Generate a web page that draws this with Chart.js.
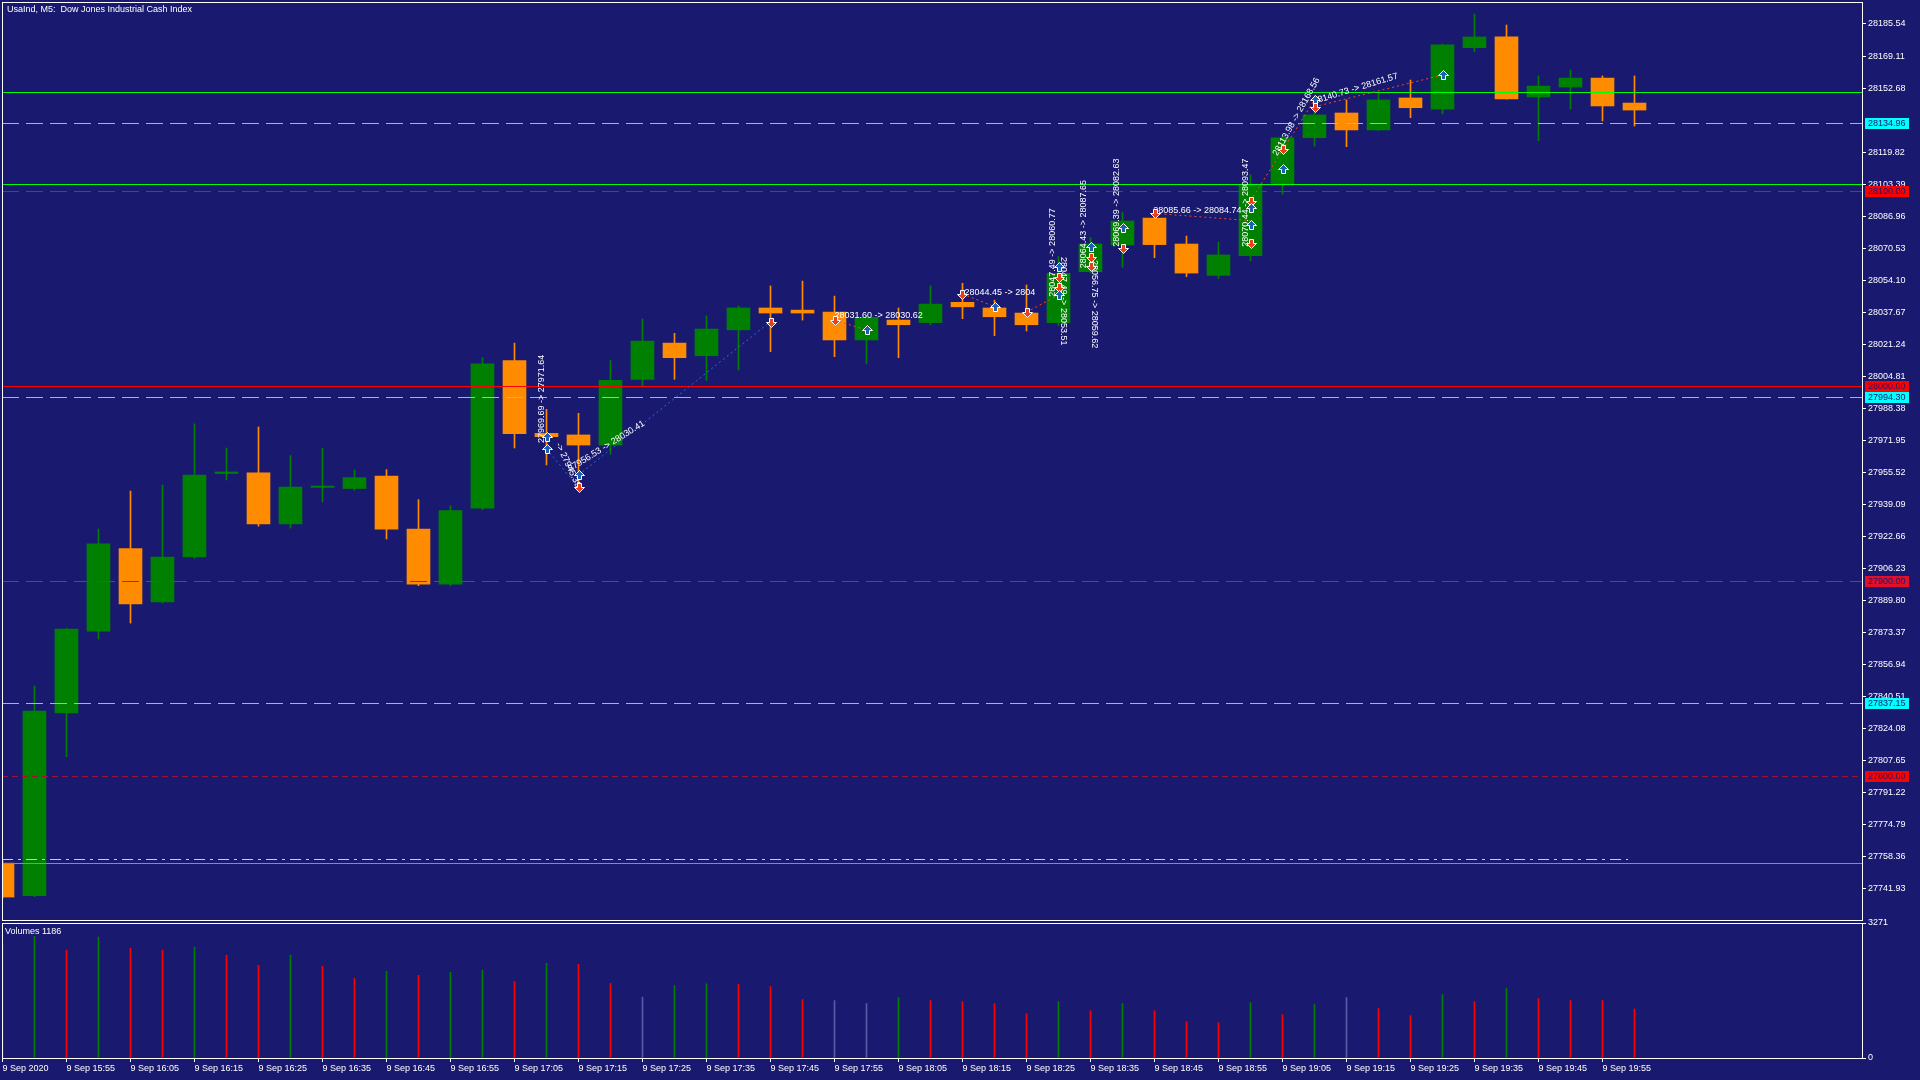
<!DOCTYPE html>
<html>
<head>
<meta charset="utf-8">
<script src="https://cdn.jsdelivr.net/npm/chart.js@4.4.0/dist/chart.umd.min.js"></script>
<style>
  html, body { margin: 0; padding: 0; background: #191970; overflow: hidden; }
  #wrap { position: relative; width: 1920px; height: 1080px; }
  canvas { position: absolute; left: 0; }
  #priceChart { top: 0; }
  #volChart { top: 900px; }
</style>
</head>
<body>
<div id="wrap">
  <canvas id="priceChart" width="1920" height="922"></canvas>
  <canvas id="volChart" width="1920" height="180"></canvas>
</div>
<script>
// M5 bars, 9 Sep 2020
const barTimes = ['15:45','15:50','15:55','16:00','16:05','16:10','16:15','16:20','16:25','16:30',
  '16:35','16:40','16:45','16:50','16:55','17:00','17:05','17:10','17:15','17:20',
  '17:25','17:30','17:35','17:40','17:45','17:50','17:55','18:00','18:05','18:10',
  '18:15','18:20','18:25','18:30','18:35','18:40','18:45','18:50','18:55','19:00',
  '19:05','19:10','19:15','19:20','19:25','19:30','19:35','19:40','19:45','19:50',
  '19:55','20:00'];

const open  = [27755.2, 27738.5, 27832.2, 27874.2, 27916.5, 27889.1, 27912.2, 27955.0, 27955.4, 27929.1,
  27947.9, 27947.3, 27953.7, 27926.5, 27898.3, 27937.2, 28012.9, 27975.6, 27974.8, 27969.6,
  28003.3, 28021.9, 28015.4, 28028.7, 28039.9, 28038.8, 28037.8, 28023.5, 28033.7, 28032.4,
  28042.8, 28039.9, 28037.3, 28032.4, 28058.5, 28072.2, 28086.0, 28072.7, 28056.6, 28066.7,
  28103.0, 28127.2, 28139.9, 28131.2, 28147.6, 28141.9, 28173.4, 28178.9, 28148.1, 28153.2,
  28157.8, 28145.0];
const high  = [27756.5, 27846.0, 27875.6, 27926.5, 27946.0, 27949.1, 27980.5, 27968.1, 27978.9, 27964.2,
  27968.0, 27956.8, 27957.0, 27941.6, 27938.5, 28014.4, 28021.9, 27987.9, 27985.9, 28012.9,
  28034.2, 28026.9, 28035.8, 28040.9, 28051.2, 28053.7, 28046.0, 28036.0, 28039.9, 28051.2,
  28052.6, 28043.9, 28051.7, 28066.2, 28076.0, 28088.8, 28090.1, 28076.8, 28073.6, 28108.2,
  28128.0, 28149.1, 28146.6, 28149.7, 28156.8, 28175.2, 28190.6, 28185.0, 28158.9, 28161.9,
  28158.9, 28158.9];
const low   = [27737.2, 27738.0, 27809.8, 27870.1, 27878.3, 27888.6, 27911.5, 27951.7, 27928.0, 27927.0,
  27940.5, 27946.5, 27921.4, 27897.5, 27897.5, 27936.5, 27968.1, 27959.4, 27950.0, 27964.9,
  27999.5, 28003.3, 28002.8, 28008.1, 28017.5, 28033.7, 28014.9, 28011.5, 28014.4, 28031.2,
  28034.4, 28025.7, 28028.1, 28031.0, 28057.9, 28060.8, 28065.7, 28056.0, 28055.0, 28064.1,
  28098.3, 28122.9, 28122.6, 28131.0, 28137.5, 28139.5, 28171.3, 28147.0, 28125.7, 28141.9,
  28135.8, 28133.2];
const close = [27737.8, 27833.2, 27875.2, 27919.0, 27888.1, 27912.2, 27954.2, 27955.8, 27929.1, 27948.1,
  27948.6, 27952.9, 27926.5, 27898.3, 27936.0, 28011.3, 27975.5, 27973.9, 27969.6, 28002.8,
  28022.9, 28014.4, 28029.1, 28039.9, 28037.3, 28037.3, 28023.5, 28035.1, 28031.3, 28041.9,
  28040.5, 28035.4, 28031.3, 28057.7, 28072.7, 28084.5, 28072.4, 28057.8, 28067.1, 28103.5,
  28127.2, 28138.9, 28131.2, 28146.6, 28142.6, 28174.8, 28178.9, 28147.1, 28153.7, 28157.8,
  28143.5, 28141.4];

const volume = [2750, 2946, 2612, 2929, 2661, 2612, 2685, 2490, 2246, 2490,
  2221, 1928, 2099, 2002, 2075, 2124, 1855, 2295, 2270, 1806,
  1473, 1757, 1798, 1790, 1733, 1416, 1391, 1318, 1465, 1391,
  1367, 1318, 1074, 1367, 1147, 1318, 1147, 879, 854, 1343,
  1050, 1294, 1465, 1196, 1025, 1538, 1367, 1684, 1440, 1391,
  1391, 1186];
// g = up, r = down, n = neutral (as drawn by the terminal)
const volumeTone = ['r','g','r','g','r','r','g','r','r','g',
  'r','r','g','r','g','g','r','g','r','r',
  'n','g','g','r','r','r','n','n','g','r',
  'r','r','r','g','r','g','r','r','r','g',
  'r','g','n','r','r','g','r','g','r','r',
  'r','r'];
const volumeMax = 3271;

const priceTicks = [28185.54, 28169.11, 28152.68, 28119.82, 28103.39, 28086.96, 28070.53, 28054.10,
  28037.67, 28021.24, 28004.81, 27988.38, 27971.95, 27955.52, 27939.09, 27922.66, 27906.23,
  27889.80, 27873.37, 27856.94, 27840.51, 27824.08, 27807.65, 27791.22, 27774.79, 27758.36, 27741.93];

const timeTickBars = [0,2,4,6,8,10,12,14,16,18,20,22,24,26,28,30,32,34,36,38,40,42,44,46,48,50];
const timeTickLabels = ['9 Sep 2020','9 Sep 15:55','9 Sep 16:05','9 Sep 16:15','9 Sep 16:25','9 Sep 16:35',
  '9 Sep 16:45','9 Sep 16:55','9 Sep 17:05','9 Sep 17:15','9 Sep 17:25','9 Sep 17:35','9 Sep 17:45',
  '9 Sep 17:55','9 Sep 18:05','9 Sep 18:15','9 Sep 18:25','9 Sep 18:35','9 Sep 18:45','9 Sep 18:55',
  '9 Sep 19:05','9 Sep 19:15','9 Sep 19:25','9 Sep 19:35','9 Sep 19:45','9 Sep 19:55'];

// horizontal levels
const levelPrices = [28150.5, 28134.96, 28103.4, 28100.00, 28000.00, 27994.30, 27900.00, 27837.15, 27800.00, 27757.2, 27755.1];
const levelStyles = [
  { color: '#00ff00', dash: [] },
  { color: '#00ffff', dash: [17, 7], tag: true },
  { color: '#00ff00', dash: [] },
  { color: '#ff0000', dash: [17, 7], tag: true },
  { color: '#ff0000', dash: [], tag: true },
  { color: '#00ffff', dash: [17, 7], tag: true },
  { color: '#e0102a', dash: [17, 7], tag: true },
  { color: '#00ffff', dash: [17, 7], tag: true },
  { color: '#a0103a', dash: [6, 4], tag: true, tagColor: '#ff0000' },
  { color: '#e8e020', dash: [11, 5, 3, 5], end: 50.8 },
  { color: '#32cd32', dash: [] }
];

// trade history
const tradeOpenIdx    = [17, 18, 26, 30, 32, 36, 39, 41];
const tradeOpenPrice  = [27967.6, 27954.2, 28033.7, 28047.1, 28037.7, 28088.4, 28094.9, 28143.1];
const tradeCloseIdx   = [18, 24, 27, 31, 33, 39, 41, 45];
const tradeClosePrice = [27947.9, 28032.9, 28028.6, 28040.6, 28046.6, 28084.7, 28146.6, 28159.4];
const tradeSide       = ['buy', 'buy', 'sell', 'sell', 'sell', 'sell', 'sell', 'sell'];

const arrowIdx   = [17, 17, 18, 18, 24, 26, 27, 30, 31, 32, 33, 33, 33, 33, 34, 34, 34, 35, 35, 36, 39, 39, 39, 39, 40, 40, 41, 41, 45];
const arrowPrice = [27973.9, 27967.6, 27947.9, 27954.2, 28032.9, 28033.7, 28028.6, 28047.1, 28040.6, 28037.7,
  28061.1, 28056.0, 28050.5, 28046.6, 28071.3, 28066.2, 28061.4, 28080.8, 28070.8, 28088.4,
  28094.9, 28091.0, 28082.4, 28073.1, 28121.4, 28111.2, 28146.6, 28143.1, 28159.4];
const arrowSide  = ['b','b','s','b','s','s','b','s','b','s','b','s','s','b','b','s','s','b','s','s','s','b','b','s','s','b','b','s','b'];

const noteText  = ['27969.69 -> 27971.64', '27956.53 -> 28030.41', '-> 27945.39', '28031.60 -> 28030.62',
  '28044.45 -> 2804', '28047.49 -> 28060.77', '28047.49 -> 28053.51', '28064.43 -> 28087.65',
  '28056.75 -> 28059.62', '28069.39 -> 28082.63', '28085.66 -> 28084.74', '28070.44 -> 28093.47',
  '28113.98 -> 28168.56', '28140.73 -> 28161.57'];
const noteIdx   = [16.83, 17.7, 17.36, 26.0, 30.06, 32.82, 33.17, 33.78, 34.14, 34.8, 35.96, 38.83, 39.77, 40.96];
const notePrice = [27970.6, 27957.0, 27970.6, 28035.8, 28047.7, 28045.7, 28066.0, 28060.3, 28064.5, 28071.3, 28089.8, 28071.3, 28118.3, 28145.7];
const noteAngle = [-90, -32, 65, 0, 0, -90, 90, -90, 90, -90, 0, -90, -61, -17];

const BULL = '#008000';
const BEAR = '#ff8c00';
const FONT = { family: "'Liberation Sans', Arial, sans-serif", size: 9 };
const FONT_CSS = "9px 'Liberation Sans', Arial, sans-serif";
const X_MIN = -1 / 64, X_MAX = X_MIN + 1860 / 32;
const Y_MIN = 27726.03, Y_MAX = 28196.82;

const candleColors = open.map((o, i) => close[i] >= o ? BULL : BEAR);
const toneColor = { g: '#008000', r: '#ff0000', n: '#5a5aa8' };

function drawArrow(ctx, x, y, side) {
  const up = side === 'b';
  const d = up ? 1 : -1;
  x = Math.round(x) + 0.5;
  y = Math.round(y) + 0.5;
  ctx.beginPath();
  ctx.moveTo(x, y - 5 * d);
  ctx.lineTo(x + 5, y);
  ctx.lineTo(x + 2, y);
  ctx.lineTo(x + 2, y + 4 * d);
  ctx.lineTo(x - 2, y + 4 * d);
  ctx.lineTo(x - 2, y);
  ctx.lineTo(x - 5, y);
  ctx.closePath();
  ctx.fillStyle = up ? '#1e5fb4' : '#e8401c';
  ctx.fill();
  ctx.strokeStyle = '#ffffff';
  ctx.lineWidth = 1;
  ctx.stroke();
}

function drawFrame(chart) {
  const { ctx, chartArea: a } = chart;
  ctx.save();
  ctx.strokeStyle = '#ffffff';
  ctx.lineWidth = 1;
  ctx.setLineDash([]);
  ctx.strokeRect(a.left + 0.5, a.top + 0.5, a.right - a.left, a.bottom - a.top);
  ctx.restore();
}

const priceOverlay = {
  id: 'priceOverlay',
  afterDatasetsDraw(chart) {
    const { ctx, chartArea: a } = chart;
    const xs = chart.scales.x, ys = chart.scales.y;
    ctx.save();
    ctx.beginPath();
    ctx.rect(a.left, a.top, a.right - a.left, a.bottom - a.top);
    ctx.clip();
    ctx.lineWidth = 1;

    levelPrices.forEach((p, k) => {
      const st = levelStyles[k];
      const py = Math.round(ys.getPixelForValue(p)) + 0.5;
      ctx.strokeStyle = st.color;
      ctx.setLineDash(st.dash);
      ctx.beginPath();
      ctx.moveTo(a.left, py);
      ctx.lineTo(st.end != null ? xs.getPixelForValue(st.end) : a.right, py);
      ctx.stroke();
    });

    ctx.setLineDash([2, 3]);
    tradeOpenIdx.forEach((i0, k) => {
      ctx.strokeStyle = tradeSide[k] === 'buy' ? '#2a6fd6' : '#ff4a1a';
      ctx.beginPath();
      ctx.moveTo(xs.getPixelForValue(i0), ys.getPixelForValue(tradeOpenPrice[k]));
      ctx.lineTo(xs.getPixelForValue(tradeCloseIdx[k]), ys.getPixelForValue(tradeClosePrice[k]));
      ctx.stroke();
    });
    ctx.setLineDash([]);

    ctx.fillStyle = '#ffffff';
    ctx.font = FONT_CSS;
    ctx.textAlign = 'left';
    ctx.textBaseline = 'middle';
    noteText.forEach((t, k) => {
      ctx.save();
      ctx.translate(xs.getPixelForValue(noteIdx[k]), ys.getPixelForValue(notePrice[k]));
      ctx.rotate(noteAngle[k] * Math.PI / 180);
      ctx.fillText(t, 0, 0);
      ctx.restore();
    });

    arrowIdx.forEach((i, k) => drawArrow(ctx, xs.getPixelForValue(i), ys.getPixelForValue(arrowPrice[k]), arrowSide[k]));
    ctx.restore();
  },
  afterDraw(chart) {
    const { ctx, chartArea: a } = chart;
    const ys = chart.scales.y;
    drawFrame(chart);
    ctx.save();
    ctx.font = FONT_CSS;
    ctx.textBaseline = 'middle';
    ctx.textAlign = 'left';
    ctx.fillStyle = '#ffffff';
    ctx.fillText('UsaInd, M5:  Dow Jones Industrial Cash Index', 7, 10);

    // price tags on the axis
    levelPrices.forEach((p, k) => {
      const st = levelStyles[k];
      if (!st.tag) return;
      const py = Math.round(ys.getPixelForValue(p));
      ctx.fillStyle = st.tagColor || st.color;
      ctx.fillRect(a.right + 3, py - 5, 44, 11);
      ctx.fillStyle = '#191970';
      ctx.fillText(p.toFixed(2), a.right + 6, py + 0.5);
    });
    ctx.restore();
  }
};

const volumeOverlay = {
  id: 'volumeOverlay',
  afterDraw(chart) {
    const { ctx, chartArea: a } = chart;
    drawFrame(chart);
    ctx.save();
    ctx.font = FONT_CSS;
    ctx.textBaseline = 'middle';
    ctx.fillStyle = '#ffffff';
    ctx.fillText('Volumes ' + volume[volume.length - 1], a.left + 3, a.top + 9);
    ctx.restore();
  }
};

new Chart(document.getElementById('priceChart'), {
  type: 'bar',
  data: {
    datasets: [
      {
        label: 'body',
        data: open.map((o, i) => ({ x: i, y: [o, close[i]] })),
        backgroundColor: candleColors,
        borderWidth: 0,
        barThickness: 23,
        grouped: false,
        order: 0
      },
      {
        label: 'wick',
        data: high.map((h, i) => ({ x: i, y: [low[i], h] })),
        backgroundColor: candleColors,
        borderWidth: 0,
        barThickness: 1,
        grouped: false,
        order: 1
      }
    ]
  },
  options: {
    responsive: false,
    animation: false,
    events: [],
    layout: { padding: { left: 2, top: 2, right: 0, bottom: 2 } },
    plugins: { legend: { display: false }, tooltip: { enabled: false } },
    scales: {
      x: { type: 'linear', min: X_MIN, max: X_MAX, offset: false, display: false, grid: { offset: false } },
      y: {
        position: 'right',
        min: Y_MIN,
        max: Y_MAX,
        bounds: 'data',
        afterBuildTicks: s => { s.ticks = priceTicks.map(v => ({ value: v })); },
        afterFit: s => { s.width = 58; s.paddingTop = 0; s.paddingBottom = 0; },
        grid: { drawOnChartArea: false, drawTicks: true, tickLength: 4, color: '#ffffff' },
        border: { display: false },
        ticks: { color: '#ffffff', font: FONT, padding: 2, autoSkip: false, callback: v => Number(v).toFixed(2) }
      }
    }
  },
  plugins: [priceOverlay]
});

new Chart(document.getElementById('volChart'), {
  type: 'bar',
  data: {
    datasets: [{
      label: 'Volumes',
      data: volume.map((v, i) => ({ x: i, y: v })),
      backgroundColor: volumeTone.map(t => toneColor[t]),
      borderWidth: 0,
      barThickness: 1
    }]
  },
  options: {
    responsive: false,
    animation: false,
    events: [],
    layout: { padding: { left: 2, top: 23, right: 0, bottom: 0 } },
    plugins: { legend: { display: false }, tooltip: { enabled: false } },
    scales: {
      x: {
        type: 'linear',
        min: X_MIN,
        max: X_MAX,
        offset: false,
        position: 'bottom',
        afterBuildTicks: s => { s.ticks = timeTickBars.map(v => ({ value: v })); },
        afterFit: s => { s.height = 22; s.paddingLeft = 0; s.paddingRight = 0; },
        grid: { drawOnChartArea: false, drawTicks: true, tickLength: 4, color: '#ffffff', offset: false },
        border: { display: false },
        ticks: { color: '#ffffff', font: FONT, padding: 1, autoSkip: false, maxRotation: 0, minRotation: 0, align: 'start',
          callback: (v, k) => timeTickLabels[k] }
      },
      y: {
        position: 'right',
        min: 0,
        max: volumeMax,
        bounds: 'data',
        afterBuildTicks: s => { s.ticks = [{ value: 0 }, { value: volumeMax }]; },
        afterFit: s => { s.width = 58; s.paddingTop = 0; s.paddingBottom = 0; },
        grid: { drawOnChartArea: false, drawTicks: true, tickLength: 4, color: '#ffffff' },
        border: { display: false },
        ticks: { color: '#ffffff', font: FONT, padding: 2, autoSkip: false, callback: v => String(v) }
      }
    }
  },
  plugins: [volumeOverlay]
});
</script>
</body>
</html>
